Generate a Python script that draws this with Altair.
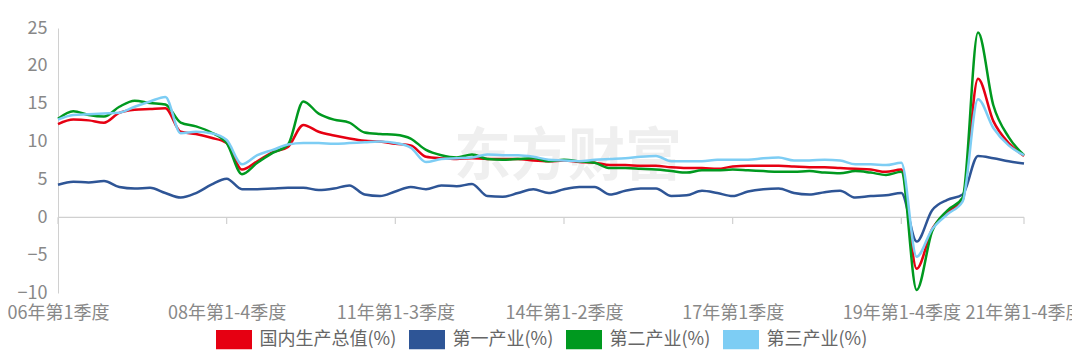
import altair as alt
import pandas as pd

# ---- categories -------------------------------------------------------
years = ["06", "07", "08", "09", "10", "11", "12", "13",
         "14", "15", "16", "17", "18", "19", "20", "21"]
quarter_suffix = ["第1季度", "第1-2季度", "第1-3季度", "第1-4季度"]
quarters = [f"{y}年{s}" for y in years for s in quarter_suffix]

tick_labels = ["06年第1季度", "08年第1-4季度", "11年第1-3季度", "14年第1-2季度",
               "17年第1季度", "19年第1-4季度", "21年第1-4季度"]

series_names = ["国内生产总值(%)", "第一产业(%)", "第二产业(%)", "第三产业(%)"]
series_colors = ["#e60012", "#2e5596", "#00991f", "#7dcdf4"]

# ---- values (cumulative yoy growth, %) --------------------------------
gdp = [12.3, 12.9, 12.8, 12.5, 13.8, 14.2, 14.3, 14.4,
       11.3, 11.0, 10.5, 9.8, 6.3, 7.4, 8.6, 9.3,
       12.2, 11.3, 10.8, 10.4, 10.1, 10.0, 9.7, 9.5,
       8.0, 7.8, 7.7, 7.8, 7.7, 7.7, 7.7, 7.5,
       7.4, 7.5, 7.3, 7.2, 6.9, 6.9, 6.8, 6.8,
       6.6, 6.5, 6.5, 6.4, 6.7, 6.8, 6.8, 6.8,
       6.7, 6.6, 6.6, 6.5, 6.4, 6.3, 6.0, 6.3,
       -6.8, -1.6, 0.7, 2.3, 18.3, 12.7, 9.8, 8.1]
primary = [4.3, 4.7, 4.6, 4.8, 4.0, 3.8, 3.9, 3.2,
           2.6, 3.2, 4.3, 5.1, 3.7, 3.7, 3.8, 3.9,
           3.9, 3.6, 3.8, 4.2, 3.0, 2.8, 3.4, 4.0,
           3.7, 4.2, 4.1, 4.4, 2.8, 2.7, 3.2, 3.7,
           3.2, 3.7, 4.0, 4.0, 3.0, 3.5, 3.8, 3.8,
           2.8, 2.9, 3.5, 3.2, 2.8, 3.4, 3.7, 3.8,
           3.2, 3.0, 3.3, 3.5, 2.6, 2.8, 2.9, 3.2,
           -3.2, 0.9, 2.3, 3.0, 8.1, 7.8, 7.4, 7.1]
secondary = [13.0, 14.0, 13.5, 13.3, 14.6, 15.4, 15.1, 14.9,
             12.5, 12.0, 11.2, 9.8, 5.7, 7.2, 8.5, 9.6,
             15.3, 13.7, 12.9, 12.5, 11.2, 11.0, 10.9, 10.4,
             8.9, 8.2, 7.9, 8.3, 7.7, 7.6, 7.7, 7.8,
             7.4, 7.6, 7.4, 7.2, 6.5, 6.5, 6.4, 6.3,
             6.1, 5.9, 6.2, 6.2, 6.3, 6.2, 6.1, 6.0,
             6.0, 6.1, 5.9, 5.8, 6.1, 5.9, 5.6, 6.0,
             -9.6, -1.9, 0.9, 2.6, 24.4, 14.8, 10.6, 8.2]
tertiary = [12.9, 13.5, 13.6, 13.7, 13.8, 14.6, 15.3, 15.9,
            11.1, 11.3, 11.1, 10.2, 7.0, 8.2, 8.9, 9.6,
            9.8, 9.8, 9.7, 9.8, 9.9, 10.0, 9.8, 9.2,
            7.3, 7.7, 7.8, 7.9, 8.3, 8.2, 8.2, 8.0,
            7.6, 7.5, 7.4, 7.6, 7.7, 7.8, 8.0, 8.1,
            7.4, 7.4, 7.4, 7.6, 7.6, 7.6, 7.8, 7.9,
            7.5, 7.5, 7.6, 7.5, 7.0, 7.0, 6.9, 7.2,
            -5.2, -1.6, 0.4, 2.1, 15.6, 11.8, 9.5, 8.2]

y_ticks = [-10, -5, 0, 5, 10, 15, 20, 25]

# ---- table ------------------------------------------------------------
rows = []
for name, vals in zip(series_names, [gdp, primary, secondary, tertiary]):
    for q, v in zip(quarters, vals):
        rows.append({"quarter": q, "series": name, "value": v})
df = pd.DataFrame(rows)

FONT = "Noto Sans CJK SC"

x_axis = alt.Axis(values=tick_labels, title=None, labelAngle=0,
                  labelAlign="center", labelBaseline="top",
                  ticks=False, domain=False, grid=False,
                  labelFontSize=18, labelColor="#888888",
                  labelPadding=11, labelOverlap=False)
x_scale = alt.Scale(type="point", padding=0)
x_enc = alt.X("quarter:N", sort=quarters, scale=x_scale, axis=x_axis)

y_scale = alt.Scale(domain=[-10, 25], nice=False, zero=False)
y_axis = alt.Axis(values=y_ticks, title=None, ticks=False,
                  domainColor="#d0d0d0", gridColor="#d0d0d0",
                  gridDash=[2, 4], labelFontSize=18,
                  labelColor="#888888", labelPadding=11,
                  labelOverlap=False)
y_enc = alt.Y("value:Q", scale=y_scale, axis=y_axis)

watermark = alt.Chart(pd.DataFrame({"t": ["东方财富"]})).mark_text(
    fontSize=57, fontWeight="bold", color="#efefef", font=FONT
).encode(text="t:N", x=alt.value(510), y=alt.value(130))

zero_line = alt.Chart(pd.DataFrame({"z": [0]})).mark_rule(
    color="#d0d0d0", strokeWidth=1.2
).encode(y=alt.YDatum(0, scale=y_scale, axis=y_axis))

ticks = alt.Chart(pd.DataFrame({"quarter": tick_labels})).mark_rule(
    color="#d0d0d0", strokeWidth=1.2
).encode(x=x_enc, y=alt.YDatum(0, scale=y_scale, axis=y_axis),
         y2=alt.Y2Datum(-0.9))

lines = alt.Chart(df).mark_line(interpolate="monotone").encode(
    x=x_enc, y=y_enc,
    strokeWidth=alt.value(2.5),
    color=alt.Color(
        "series:N", scale=alt.Scale(domain=series_names, range=series_colors),
        legend=alt.Legend(
            title=None, orient="none", legendX=155.5, legendY=291,
            direction="horizontal",
            symbolType="M-1,-0.4H1M-1,-0.133H1M-1,0.133H1M-1,0.4H1",
            symbolSize=1296, symbolStrokeWidth=5,
            labelFontSize=18, labelColor="#666666", labelFont=FONT,
            labelOffset=5, columnPadding=2,
        ),
    ),
)

chart = alt.layer(watermark, zero_line, ticks, lines).properties(
    width=966, height=265,
    autosize=alt.AutoSizeParams(type="none"),
    padding={"left": 50, "top": 20, "right": 48, "bottom": 58},
).configure(font=FONT).configure_view(strokeWidth=0)

chart.save("out.html", embed_options={"renderer": "svg", "actions": False})
